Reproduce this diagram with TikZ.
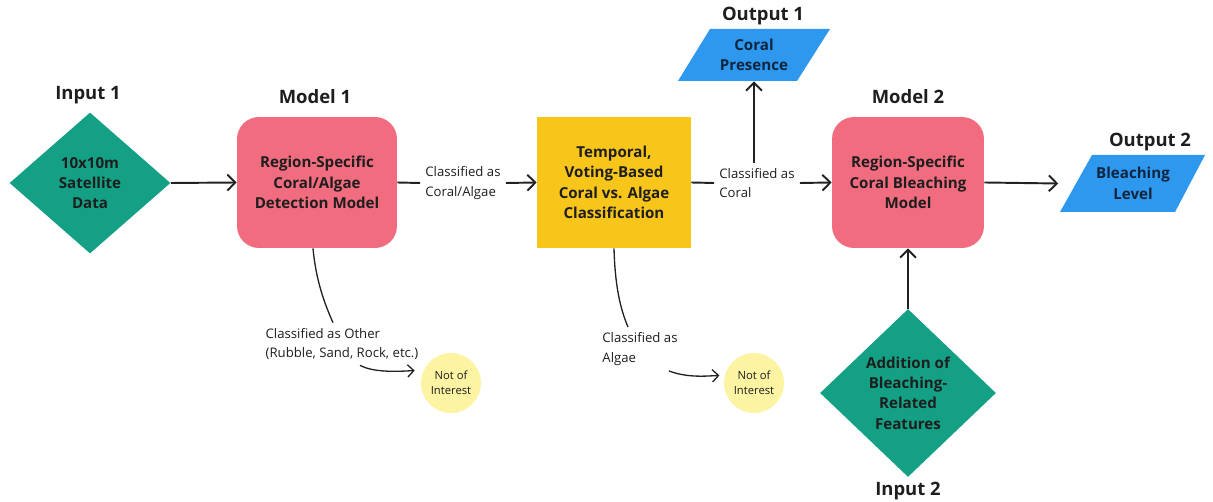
\documentclass[tikz,border=0pt]{standalone}
\usepackage{fontspec}
\setmainfont{Open Sans}
\usetikzlibrary{shapes.geometric,arrows.meta,calc}
\definecolor{cgreen}{HTML}{14A085}
\definecolor{cpink}{HTML}{F16C7F}
\definecolor{cyellow}{HTML}{F8C51B}
\definecolor{cblue}{HTML}{2E97EE}
\definecolor{ccircle}{HTML}{FDF4A3}
\definecolor{cdark}{HTML}{1E1E1E}
\definecolor{cnavy}{HTML}{10263F}
\definecolor{cline}{HTML}{222222}
\begin{document}
\begin{tikzpicture}[x=0.02cm,y=-0.02cm,
  boxtxt/.style={font=\fontsize{8.6}{11.6}\selectfont\bfseries, text=cdark, align=center},
  modelbox/.style={boxtxt, fill=cpink, rounded corners=0.44cm, inner sep=0pt, minimum height=2.62cm},
  votebox/.style={boxtxt, fill=cyellow, inner sep=0pt, minimum height=2.62cm},
  inputdia/.style={boxtxt, diamond, fill=cgreen, inner sep=0pt},
  outtxt/.style={boxtxt, text=cnavy, inner sep=0pt},
  title/.style={font=\fontsize{10.5}{12}\selectfont\bfseries, text=cdark},
  lab/.style={font=\fontsize{7.5}{11.3}\selectfont, text=cdark, align=left, inner sep=0.1cm},
  noi/.style={circle, fill=ccircle, font=\fontsize{6.4}{8.6}\selectfont, text=cdark, align=center, minimum size=1.2cm, inner sep=0pt},
  conn/.style={draw=cline, line width=1.1pt},
  arr/.style={conn, -{Straight Barb[length=4.5pt,width=9pt]}},
  curve/.style={draw=cline, line width=0.75pt},
  carr/.style={curve, -{Straight Barb[length=3.5pt,width=7pt]}}
]
\useasboundingbox (0,0) rectangle (1213,502);

% titles
\node[title] (t1) at (88,95) {Input 1};
\node[title] (t2) at (315,97) {Model 1};
\node[title] (t3) at (763,16) {Output 1};
\node[title] (t4) at (908,97) {Model 2};
\node[title] (t5) at (1150,142) {Output 2};
\node[title] (t6) at (908,491) {Input 2};

% input diamonds
\node[inputdia, minimum width=3.22cm, minimum height=2.82cm] (in1) at (90,183) {10x10m\\Satellite\\Data};
\node[inputdia, minimum width=3.52cm, minimum height=3.36cm] (in2) at (908,393) {Addition of\\Bleaching-\\Related\\Features};

% boxes
\node[modelbox, minimum width=3.2cm] (m1) at (317,182.5) {Region-Specific\\Coral/Algae\\Detection Model};
\node[votebox, minimum width=3.08cm] (vote) at (614,182.5) {Temporal,\\Voting-Based\\Coral vs. Algae\\Classification};
\node[modelbox, minimum width=3.04cm] (m2) at (908,182.5) {Region-Specific\\Coral Bleaching\\Model};

% outputs (parallelograms)
\fill[cblue] (710,29) -- (830,29) -- (797,81) -- (678,81) -- cycle;
\node[outtxt, minimum width=2.4cm, minimum height=1.04cm] (out1) at (754,55) {Coral\\Presence};
\fill[cblue] (1092,155) -- (1205,155) -- (1175,212) -- (1060,212) -- cycle;
\node[outtxt, minimum width=2.3cm, minimum height=1.14cm] (out2) at (1133,183.5) {Bleaching\\Level};

% labels
\node[lab] (l1) at (463,183) {Classified as\\Coral/Algae};
\node[lab] (l2) at (757,183) {Classified as\\Coral};
\node[lab] (l3) at (342,344) {Classified as Other\\(Rubble, Sand, Rock, etc.)};
\node[lab] (l4) at (640,349) {Classified as\\Algae};

% not of interest
\node[noi] (n1) at (451,383) {Not of\\Interest};
\node[noi] (n2) at (754,383) {Not of\\Interest};

% connectors
\draw[arr] (in1.east) -- (m1.west);
\draw[conn] (m1.east) -- (l1.west);
\draw[arr] (l1.east) -- (vote.west);
\draw[conn] (vote.east) -- (l2.west);
\draw[arr] (l2.east) -- (m2.west);
\draw[arr] (out1.south |- l2.north) -- (out1.south);
\draw[arr] (m2.east) -- ([xshift=-0.34cm]out2.west);
\draw[arr] (in2.north) -- (m2.south);

% side branches
\draw[curve] ([xshift=-0.08cm]m1.south) .. controls ++(3,33) and ++(-8,-18) .. ([xshift=-0.18cm]l3.north);
\draw[carr, shorten >=5pt] ([xshift=0.36cm]l3.south) .. controls ++(15,8) and ++(-22,1) .. (n1.155);
\draw[curve] (vote.south) .. controls ++(1,37) and ++(-8,-19) .. ([xshift=-0.24cm]l4.north);
\draw[carr, shorten >=3pt] ([xshift=-0.28cm]l4.south east) .. controls ++(18,7) and ++(-19,1) .. (n2.165);
\end{tikzpicture}
\end{document}
